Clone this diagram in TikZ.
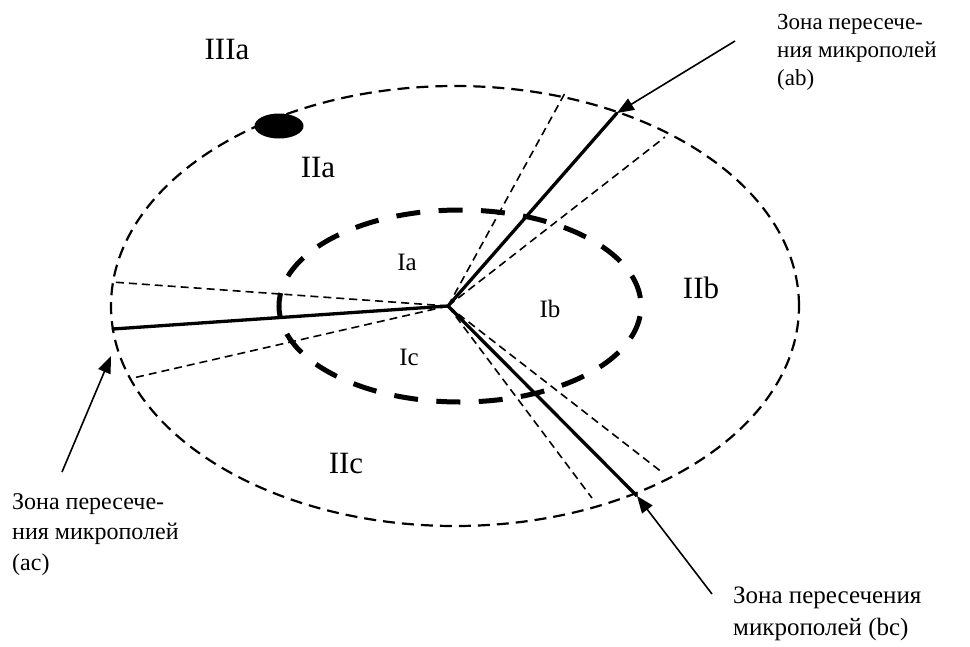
\documentclass[tikz,border=0pt]{standalone}
\usepackage{fontspec}
\setmainfont{Liberation Serif}
\usetikzlibrary{arrows.meta}
\begin{document}
\begin{tikzpicture}[x=1pt,y=-1pt,
  outerline/.style={line width=2.2pt, dash pattern=on 12pt off 7pt},
  innerline/.style={line width=5pt, dash pattern=on 24pt off 18.43pt, dash phase=34.4pt},
  ray/.style={line width=1.6pt, dash pattern=on 8pt off 5pt},
  bound/.style={line width=3.3pt},
  pointer/.style={line width=1.6pt, -{Triangle[length=17pt,width=13pt]}},
  zone/.style={font=\fontsize{31}{33}\selectfont, inner sep=0pt},
  core/.style={font=\fontsize{25}{27}\selectfont, inner sep=0pt},
  note/.style={align=left, inner sep=0pt, anchor=north west},
]
\useasboundingbox (0,0) rectangle (970,646);

% field boundaries
\draw[outerline] (455,306) ellipse [x radius=344pt, y radius=220pt];
\draw[innerline] (460,306) ellipse [x radius=181pt, y radius=96pt];
\fill (279,126) ellipse [x radius=24.5pt, y radius=12.5pt];

% common point and the borders between microfields
\coordinate (C) at (448,306);
\coordinate (ab) at (617,113);
\coordinate (ac) at (113,329);
\coordinate (bc) at (637,496);
\coordinate (ab1) at (565,93);
\coordinate (ab2) at (665,137);
\coordinate (ac1) at (112,282);
\coordinate (ac2) at (133,378);
\coordinate (bc1) at (592,498);
\coordinate (bc2) at (663,473);

\draw[ray] (C) -- (ab1);
\draw[ray] (C) -- (ab2);
\draw[ray] (C) -- (ac1);
\draw[ray] (C) -- (ac2);
\draw[ray] (C) -- (bc1);
\draw[ray] (C) -- (bc2);

\draw[bound, line cap=round] (ab) -- (C) -- (ac);
\draw[bound, line join=miter] (C) -- (bc);

% zone labels
\node[zone] (z3a) at (227,49) {IIIa};
\node[zone] (z2a) at (318,167) {IIa};
\node[zone] (z2b) at (701,288) {IIb};
\node[zone] (z2c) at (346,463) {IIc};
\node[core] (z1a) at (407,262) {Ia};
\node[core] (z1b) at (550,309) {Ib};
\node[core] (z1c) at (409,357) {Ic};

% captions
\node[note, font=\fontsize{23}{28}\selectfont] (nab) at (777,14)
  {Зона пересече-\\ния микрополей\\(ab)};
\node[note, font=\fontsize{24}{30.5}\selectfont] (nac) at (12,493)
  {Зона пересече-\\ния микрополей\\(ac)};
\node[note, font=\fontsize{25}{31.5}\selectfont] (nbc) at (733,587)
  {Зона пересечения\\микрополей (bc)};

\coordinate (pab) at (735,41);
\coordinate (pac) at (62,472);
\coordinate (pbc) at (712,594);
\coordinate (tac) at (111,356);

\draw[pointer] (pab) -- (ab);
\draw[pointer] (pac) -- (tac);
\draw[pointer] (pbc) -- (bc);
\end{tikzpicture}
\end{document}
